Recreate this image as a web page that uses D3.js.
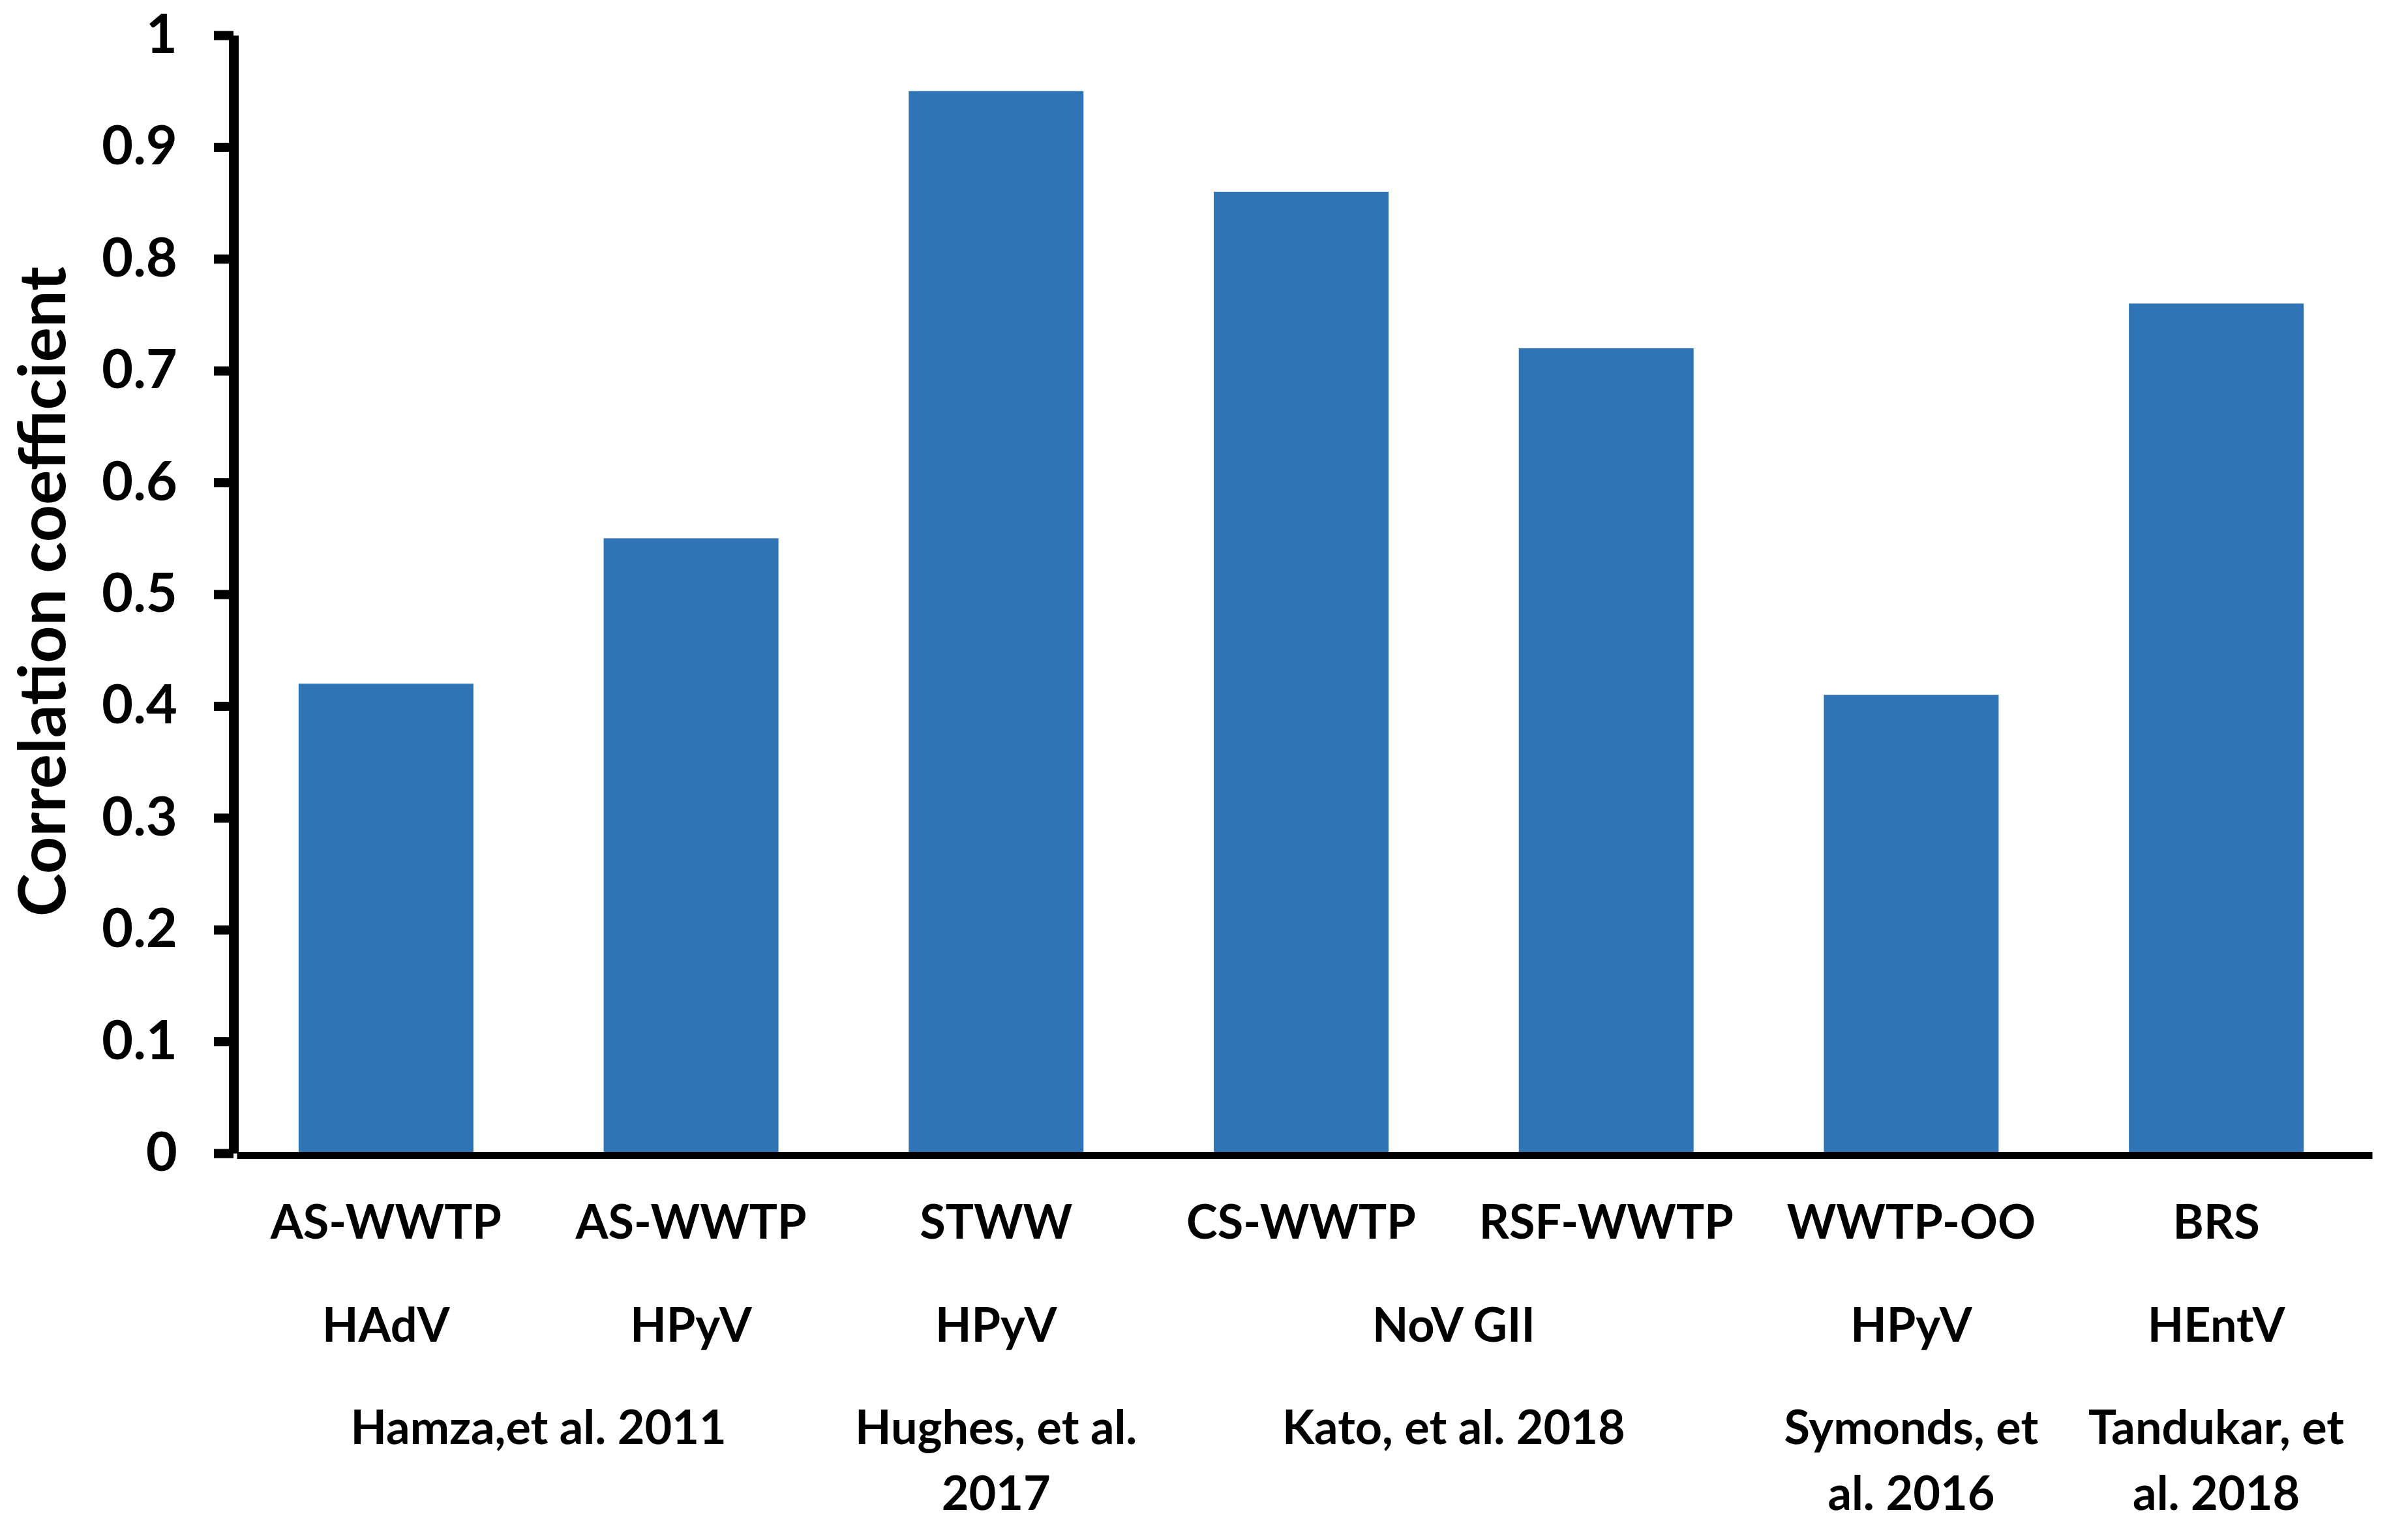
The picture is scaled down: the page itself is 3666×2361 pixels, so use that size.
<!DOCTYPE html>
<meta charset="utf-8">
<style>
  body { margin: 0; background: #fff; }
  text { font-family: Lato, "Open Sans", sans-serif; font-weight: bold; fill: #000; }
</style>
<body>
<div id="chart"></div>
<script src="https://cdn.jsdelivr.net/npm/d3@7"></script>
<script>

// data
var sites = ["AS-WWTP", "AS-WWTP", "STWW", "CS-WWTP", "RSF-WWTP", "WWTP-OO", "BRS"];
var coeffs = [0.42, 0.55, 0.95, 0.86, 0.72, 0.41, 0.76];

// second and third label rows: text, first bar, last bar
var viruses = [
  ["HAdV", 0, 0],
  ["HPyV", 1, 1],
  ["HPyV", 2, 2],
  ["NoV GII", 3, 4],
  ["HPyV", 5, 5],
  ["HEntV", 6, 6]
];
var studies = [
  [["Hamza,et al. 2011"], 0, 1],
  [["Hughes, et al.", "2017"], 2, 2],
  [["Kato, et al. 2018"], 3, 4],
  [["Symonds, et", "al. 2016"], 5, 5],
  [["Tandukar, et", "al. 2018"], 6, 6]
];
var yTicks = [0, 0.1, 0.2, 0.3, 0.4, 0.5, 0.6, 0.7, 0.8, 0.9, 1];

var width = 3666, height = 2361;

var svg = d3.select("#chart").append("svg")
    .attr("width", width)
    .attr("height", height);

svg.append("rect")
    .attr("width", width)
    .attr("height", height)
    .attr("fill", "#fff");

var x = d3.scaleBand()
    .domain(d3.range(sites.length))
    .range([358, 3632])
    .paddingInner(0.427)
    .paddingOuter(0.2135);

var y = d3.scaleLinear()
    .domain([0, 1])
    .range([1768, 54]);

function mid(a, b) {
  return (x(a) + x(b) + x.bandwidth()) / 2;
}

//bars
svg.append("g")
  .selectAll("rect")
  .data(coeffs)
  .enter().append("rect")
    .attr("x", function(d, i) { return x(i); })
    .attr("y", function(d) { return y(d); })
    .attr("width", x.bandwidth())
    .attr("height", function(d) { return y(0) - y(d); })
    .attr("fill", "#2F75B6");

//y axis
var yAxis = svg.append("g")
    .attr("transform", "translate(358,0)")
    .call(d3.axisLeft(y)
      .tickValues(yTicks)
      .tickFormat(d3.format("~g"))
      .tickSize(30)
      .tickSizeOuter(0)
      .tickPadding(56));

yAxis.select(".domain")
    .attr("stroke", "#000")
    .attr("stroke-width", 15);
yAxis.selectAll(".tick line")
    .attr("stroke", "#000")
    .attr("stroke-width", 14);
yAxis.selectAll(".tick text")
    .style("font-size", "83px")
    .style("font-family", "Lato, sans-serif")
    .style("font-weight", "bold");

//x axis line
var xAxis = svg.append("g")
    .attr("transform", "translate(5,1771)")
    .call(d3.axisBottom(x).tickSize(0).tickFormat(""));
xAxis.select(".domain")
    .attr("stroke", "#000")
    .attr("stroke-width", 11);

//label rows
svg.append("g")
  .selectAll("text")
  .data(sites)
  .enter().append("text")
    .attr("x", function(d, i) { return mid(i, i); })
    .attr("y", 1899)
    .attr("text-anchor", "middle")
    .style("font-size", "72px")
    .text(function(d) { return d; });

svg.append("g")
  .selectAll("text")
  .data(viruses)
  .enter().append("text")
    .attr("x", function(d) { return mid(d[1], d[2]); })
    .attr("y", 2057)
    .attr("text-anchor", "middle")
    .style("font-size", "72px")
    .text(function(d) { return d[0]; });

svg.append("g")
  .selectAll("text")
  .data(studies)
  .enter().append("text")
    .attr("text-anchor", "middle")
    .style("font-size", "72px")
    .each(function(d) {
      var t = d3.select(this);
      d[0].forEach(function(line, k) {
        t.append("tspan")
          .attr("x", mid(d[1], d[2]))
          .attr("y", 2214 + k * 101)
          .text(line);
      });
    });

//y title
svg.append("text")
    .attr("transform", "translate(100,907) rotate(-90)")
    .attr("text-anchor", "middle")
    .style("font-size", "100px")
    .text("Correlation coefficient");

</script>
</body>
